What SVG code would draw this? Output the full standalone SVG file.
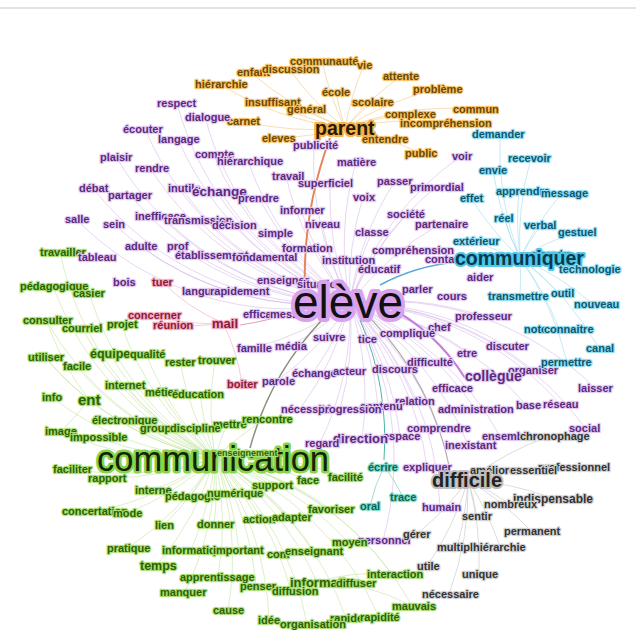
<svg xmlns="http://www.w3.org/2000/svg" width="636" height="630" viewBox="0 0 636 630">
<style>
text{font-family:"Liberation Sans",Arial,sans-serif;font-weight:bold;font-size:11px;paint-order:stroke;stroke-linejoin:round;stroke-width:2.4px}
.p{fill:#5a2a7c;stroke:#e4caf3}
.o{fill:#6a4800;stroke:#f7c36a}
.g{fill:#2b6200;stroke:#acdf78}
.t{fill:#0b5870;stroke:#96ddf2}
.k{fill:#333;stroke:#d2d2d2}
.r{fill:#8a1a3c;stroke:#f2aec0}
.q{fill:#0a665a;stroke:#86dcc8}
.e{fill:none;stroke-width:0.8}
.ep{stroke:#cfa8e6;opacity:.6}
.eo{stroke:#f5c98c;opacity:.8}
.et{stroke:#a6def0;opacity:.8}
.eg{stroke:#c4e4a0;opacity:.75}
.ek{stroke:#c8c8c8;opacity:.8}
.er{stroke:#f0b0c2;opacity:.8}
.eq{stroke:#7fd0c0;opacity:.9}
</style>
<rect width="636" height="630" fill="#fff"/>
<line x1="0" y1="8" x2="636" y2="8" stroke="#c8c8c8" stroke-width="1"/>
<g id="connectors">
<path class="e ep" d="M350 303A300 300 0 0 1 177 103M350 303A300 300 0 0 1 145 129M350 303A300 300 0 0 1 178 139M350 303A300 300 0 0 1 205 117M350 303A300 300 0 0 1 116 157M350 303A300 300 0 0 1 150 168M350 303A300 300 0 0 1 93 188M350 303A300 300 0 0 1 130 195M350 303A300 300 0 0 1 76 219M350 303A300 300 0 0 1 114 224M350 303A300 300 0 0 1 160 216M350 303A300 300 0 0 1 140 246M350 303A300 300 0 0 1 213 154M350 303A300 300 0 0 1 248 161M350 303A300 300 0 0 1 181 188M350 303A300 300 0 0 1 220 191M350 303A300 300 0 0 1 259 198M350 303A300 300 0 0 1 286 176M350 303A300 300 0 0 1 330 183M350 303A300 300 0 0 1 356 162M350 303A300 300 0 0 1 314 145M350 303A300 300 0 0 1 461 156M350 303A300 300 0 0 1 395 181M350 303A300 300 0 0 1 436 187M350 303A300 300 0 0 1 363 197M350 303A300 300 0 0 1 406 214M350 303A300 300 0 0 1 440 224M350 303A300 300 0 0 1 372 232M350 303A300 300 0 0 1 322 224M350 303A300 300 0 0 1 274 233M350 303A300 300 0 0 1 235 225M350 303A300 300 0 0 1 198 220M350 303A300 300 0 0 1 301 210M350 303A300 300 0 0 1 178 246M350 303A300 300 0 0 1 482 316M350 303A300 300 0 0 1 506 346M350 303A300 300 0 0 1 467 353M350 303A300 300 0 0 1 427 362M350 303A300 300 0 0 1 533 370M350 303A300 300 0 0 1 595 388M350 303A300 300 0 0 1 560 404M350 303A300 300 0 0 1 526 405M350 303A300 300 0 0 1 475 409M350 303A300 300 0 0 1 415 401M350 303A300 300 0 0 1 438 428M350 303A300 300 0 0 1 585 428M350 303A300 300 0 0 1 500 436M350 303A300 300 0 0 1 468 445M350 303A300 300 0 0 1 400 436M350 303A300 300 0 0 1 362 438M350 303A300 300 0 0 1 320 443M350 303A300 300 0 0 1 427 467M350 303A300 300 0 0 1 440 507M350 303A300 300 0 0 1 383 540M350 303A300 300 0 0 1 300 409M350 303A300 300 0 0 1 277 381M350 303A300 300 0 0 1 253 348M350 303A300 300 0 0 1 290 346M350 303A300 300 0 0 1 313 373M350 303A300 300 0 0 1 390 369M350 303A300 300 0 0 1 378 406M350 303A300 300 0 0 1 340 409"/>
<path class="e eo" d="M345 128A300 300 0 0 1 322 61M345 128A300 300 0 0 1 364 65M345 128A300 300 0 0 1 250 72M345 128A300 300 0 0 1 289 69M345 128A300 300 0 0 1 220 84M345 128A300 300 0 0 1 401 76M345 128A300 300 0 0 1 336 92M345 128A300 300 0 0 1 437 89M345 128A300 300 0 0 1 271 102M345 128A300 300 0 0 1 373 102M345 128A300 300 0 0 1 306 109M345 128A300 300 0 0 1 474 109M345 128A300 300 0 0 1 409 114M345 128A300 300 0 0 1 242 121M345 128A300 300 0 0 1 445 123M345 128A300 300 0 0 1 384 139M345 128A300 300 0 0 1 278 138M345 128A300 300 0 0 1 420 153"/>
<path class="e et" d="M520 258A300 300 0 0 1 500 134M520 258A300 300 0 0 1 531 158M520 258A300 300 0 0 1 493 170M520 258A300 300 0 0 1 519 191M520 258A300 300 0 0 1 562 193M520 258A300 300 0 0 1 471 198M520 258A300 300 0 0 1 504 218M520 258A300 300 0 0 1 541 225M520 258A300 300 0 0 1 576 232M520 258A300 300 0 0 1 475 241M520 258A300 300 0 0 1 587 269M520 258A300 300 0 0 1 520 296M520 258A300 300 0 0 1 559 293M520 258A300 300 0 0 1 593 304M520 258A300 300 0 0 1 559 329M520 258A300 300 0 0 1 599 348M520 258A300 300 0 0 1 567 362M520 258A300 300 0 0 1 438 259"/>
<path class="e eg" d="M215 458A300 300 0 0 1 60 252M215 458A300 300 0 0 1 53 286M215 458A300 300 0 0 1 89 293M215 458A300 300 0 0 1 46 320M215 458A300 300 0 0 1 82 328M215 458A300 300 0 0 1 121 324M215 458A300 300 0 0 1 45 357M215 458A300 300 0 0 1 109 353M215 458A300 300 0 0 1 146 354M215 458A300 300 0 0 1 76 366M215 458A300 300 0 0 1 180 362M215 458A300 300 0 0 1 215 360M215 458A300 300 0 0 1 125 385M215 458A300 300 0 0 1 160 392M215 458A300 300 0 0 1 200 394M215 458A300 300 0 0 1 51 397M215 458A300 300 0 0 1 89 400M215 458A300 300 0 0 1 124 420M215 458A300 300 0 0 1 227 424M215 458A300 300 0 0 1 266 419M215 458A300 300 0 0 1 61 431M215 458A300 300 0 0 1 157 428M215 458A300 300 0 0 1 193 428M215 458A300 300 0 0 1 97 437M215 458A300 300 0 0 1 71 469M215 458A300 300 0 0 1 107 478M215 458A300 300 0 0 1 345 477M215 458A300 300 0 0 1 308 480M215 458A300 300 0 0 1 272 485M215 458A300 300 0 0 1 153 490M215 458A300 300 0 0 1 233 493M215 458A300 300 0 0 1 191 496M215 458A300 300 0 0 1 330 509M215 458A300 300 0 0 1 98 511M215 458A300 300 0 0 1 128 513M215 458A300 300 0 0 1 290 517M215 458A300 300 0 0 1 257 519M215 458A300 300 0 0 1 164 525M215 458A300 300 0 0 1 214 524M215 458A300 300 0 0 1 348 542M215 458A300 300 0 0 1 128 548M215 458A300 300 0 0 1 191 550M215 458A300 300 0 0 1 239 550M215 458A300 300 0 0 1 314 551M215 458A300 300 0 0 1 157 565M215 458A300 300 0 0 1 392 574M215 458A300 300 0 0 1 218 577M215 458A300 300 0 0 1 317 582M215 458A300 300 0 0 1 256 586M215 458A300 300 0 0 1 291 591M215 458A300 300 0 0 1 185 592M215 458A300 300 0 0 1 412 606M215 458A300 300 0 0 1 228 610M215 458A300 300 0 0 1 346 618M215 458A300 300 0 0 1 379 617M215 458A300 300 0 0 1 269 620M215 458A300 300 0 0 1 307 624M89 400A300 300 0 0 1 46 320M89 400A300 300 0 0 1 45 357M89 400A300 300 0 0 1 61 431M317 582A200 200 0 0 1 392 574M317 582A200 200 0 0 1 412 606"/>
<path class="e ek" d="M468 480A300 300 0 0 1 550 436M468 480A300 300 0 0 1 572 467M468 480A300 300 0 0 1 532 470M468 480A300 300 0 0 1 552 498M468 480A300 300 0 0 1 510 504M468 480A300 300 0 0 1 477 516M468 480A300 300 0 0 1 531 531M468 480A300 300 0 0 1 417 534M468 480A300 300 0 0 1 457 547M468 480A300 300 0 0 1 500 547M468 480A300 300 0 0 1 427 566M468 480A300 300 0 0 1 479 574M468 480A300 300 0 0 1 449 594"/>
<path class="e er" d="M223 323A200 200 0 0 1 162 282M223 323A200 200 0 0 1 151 315M223 323A200 200 0 0 1 173 325M223 323A200 200 0 0 1 242 384"/>
<path class="e eq" d="M384 466A200 200 0 0 0 370 506M384 466A200 200 0 0 1 403 497"/>
<path fill="none" stroke="#e8845a" stroke-width="2" d="M330 138A400 400 0 0 0 305 292"/>
<path fill="none" stroke="#5aa8d8" stroke-width="1.5" d="M458 262A200 200 0 0 0 380 285"/>
<path fill="none" stroke="#8e8e7e" stroke-width="1.5" d="M250 448A300 300 0 0 1 322 320"/>
<path fill="none" stroke="#b0b0b0" stroke-width="1.2" d="M450 470A300 300 0 0 0 372 320"/>
<path fill="none" stroke="#c77de0" stroke-width="2" d="M385 305A200 200 0 0 1 465 378"/>
<path fill="none" stroke="#e49ab6" stroke-width="1" d="M240 325A300 300 0 0 0 300 310"/>
<path fill="none" stroke="#4ab8a4" stroke-width="1" d="M384 460A300 300 0 0 0 360 320"/>
</g>
<g id="n-communaute"><text class="o" x="290" y="65">communauté</text></g>
<g id="n-vie"><text class="o" x="357" y="69">vie</text></g>
<g id="n-enfant"><text class="o" x="237" y="76">enfant</text></g>
<g id="n-discussion"><text class="o" x="262" y="73">discussion</text></g>
<g id="n-hierarchie"><text class="o" x="195" y="88">hiérarchie</text></g>
<g id="n-attente"><text class="o" x="383" y="80">attente</text></g>
<g id="n-ecole"><text class="o" x="322" y="96">école</text></g>
<g id="n-probleme"><text class="o" x="413" y="93">problème</text></g>
<g id="n-insuffisant"><text class="o" x="245" y="106">insuffisant</text></g>
<g id="n-scolaire"><text class="o" x="352" y="106">scolaire</text></g>
<g id="n-general"><text class="o" x="287" y="113">général</text></g>
<g id="n-commun"><text class="o" x="453" y="113">commun</text></g>
<g id="n-complexe"><text class="o" x="385" y="118">complexe</text></g>
<g id="n-carnet"><text class="o" x="227" y="125">carnet</text></g>
<g id="n-incomprehension"><text class="o" x="400" y="127">incompréhension</text></g>
<g id="n-entendre"><text class="o" x="362" y="143">entendre</text></g>
<g id="n-eleves"><text class="o" x="262" y="142">eleves</text></g>
<g id="n-public"><text class="o" x="405" y="157">public</text></g>
<g id="n-parent"><text class="o" x="315" y="135" style="font-size:19.5px;fill:#2a1a00;stroke:#f5b24a;stroke-width:4px">parent</text></g>
<g id="n-respect"><text class="p" x="157" y="107">respect</text></g>
<g id="n-ecouter"><text class="p" x="123" y="133">écouter</text></g>
<g id="n-dialogue"><text class="p" x="185" y="121">dialogue</text></g>
<g id="n-langage"><text class="p" x="158" y="143">langage</text></g>
<g id="n-publicite"><text class="p" x="293" y="149">publicité</text></g>
<g id="n-plaisir"><text class="p" x="100" y="161">plaisir</text></g>
<g id="n-compte"><text class="p" x="195" y="158">compte</text></g>
<g id="n-hierarchique"><text class="p" x="217" y="165">hiérarchique</text></g>
<g id="n-voir"><text class="p" x="452" y="160">voir</text></g>
<g id="n-matiere"><text class="p" x="337" y="166">matière</text></g>
<g id="n-rendre"><text class="p" x="135" y="172">rendre</text></g>
<g id="n-travail"><text class="p" x="272" y="180">travail</text></g>
<g id="n-passer"><text class="p" x="377" y="185">passer</text></g>
<g id="n-superficiel"><text class="p" x="298" y="187">superficiel</text></g>
<g id="n-debat"><text class="p" x="79" y="192">débat</text></g>
<g id="n-inutile"><text class="p" x="168" y="192">inutile</text></g>
<g id="n-echange"><text class="p" x="192" y="196" style="font-size:13.5px">échange</text></g>
<g id="n-primordial"><text class="p" x="410" y="191">primordial</text></g>
<g id="n-partager"><text class="p" x="108" y="199">partager</text></g>
<g id="n-prendre"><text class="p" x="238" y="202">prendre</text></g>
<g id="n-voix"><text class="p" x="353" y="201">voix</text></g>
<g id="n-informer"><text class="p" x="280" y="214">informer</text></g>
<g id="n-societe"><text class="p" x="387" y="218">société</text></g>
<g id="n-salle"><text class="p" x="65" y="223">salle</text></g>
<g id="n-inefficace"><text class="p" x="135" y="220">inefficace</text></g>
<g id="n-transmission"><text class="p" x="164" y="224">transmission</text></g>
<g id="n-sein"><text class="p" x="103" y="228">sein</text></g>
<g id="n-decision"><text class="p" x="212" y="229">décision</text></g>
<g id="n-niveau"><text class="p" x="305" y="228">niveau</text></g>
<g id="n-partenaire"><text class="p" x="415" y="228">partenaire</text></g>
<g id="n-simple"><text class="p" x="258" y="237">simple</text></g>
<g id="n-classe"><text class="p" x="355" y="236">classe</text></g>
<g id="n-adulte"><text class="p" x="125" y="250">adulte</text></g>
<g id="n-prof"><text class="p" x="167" y="250">prof</text></g>
<g id="n-formation"><text class="p" x="282" y="252">formation</text></g>
<g id="n-comprehension"><text class="p" x="372" y="254">compréhension</text></g>
<g id="n-etablissement"><text class="p" x="175" y="259">établissement</text></g>
<g id="n-fondamental"><text class="p" x="232" y="261">fondamental</text></g>
<g id="n-institution"><text class="p" x="322" y="264">institution</text></g>
<g id="n-contact"><text class="p" x="425" y="263">contact</text></g>
<g id="n-educatif"><text class="p" x="358" y="273">éducatif</text></g>
<g id="n-aider"><text class="p" x="467" y="281">aider</text></g>
<g id="n-enseigner"><text class="p" x="257" y="284">enseigner</text></g>
<g id="n-situation"><text class="p" x="297" y="288">situation</text></g>
<g id="n-parler"><text class="p" x="402" y="293">parler</text></g>
<g id="n-langue"><text class="p" x="182" y="295">langue</text></g>
<g id="n-rapidement"><text class="p" x="210" y="295">rapidement</text></g>
<g id="n-cours"><text class="p" x="437" y="300">cours</text></g>
<g id="n-efficace"><text class="p" x="243" y="318">efficace</text></g>
<g id="n-message"><text class="p" x="270" y="318">message</text></g>
<g id="n-professeur"><text class="p" x="455" y="320">professeur</text></g>
<g id="n-chef"><text class="p" x="428" y="331">chef</text></g>
<g id="n-complique"><text class="p" x="380" y="337">compliqué</text></g>
<g id="n-suivre"><text class="p" x="313" y="341">suivre</text></g>
<g id="n-tice"><text class="p" x="358" y="343">tice</text></g>
<g id="n-media"><text class="p" x="275" y="350">média</text></g>
<g id="n-famille"><text class="p" x="237" y="352">famille</text></g>
<g id="n-discuter"><text class="p" x="486" y="350">discuter</text></g>
<g id="n-etre"><text class="p" x="457" y="357">etre</text></g>
<g id="n-difficulte"><text class="p" x="407" y="366">difficulté</text></g>
<g id="n-organiser"><text class="p" x="508" y="374">organiser</text></g>
<g id="n-discours"><text class="p" x="372" y="373">discours</text></g>
<g id="n-echange2"><text class="p" x="292" y="377">échange</text></g>
<g id="n-acteur"><text class="p" x="333" y="375">acteur</text></g>
<g id="n-collegue"><text class="p" x="465" y="381" style="font-size:14px">collègue</text></g>
<g id="n-parole"><text class="p" x="262" y="385">parole</text></g>
<g id="n-efficace2"><text class="p" x="432" y="392">efficace</text></g>
<g id="n-laisser"><text class="p" x="578" y="392">laisser</text></g>
<g id="n-relation"><text class="p" x="395" y="405">relation</text></g>
<g id="n-reseau"><text class="p" x="543" y="408">réseau</text></g>
<g id="n-base"><text class="p" x="516" y="409">base</text></g>
<g id="n-contenu"><text class="p" x="360" y="410">contenu</text></g>
<g id="n-necessite"><text class="p" x="281" y="413">nécessité</text></g>
<g id="n-progression"><text class="p" x="318" y="413">progression</text></g>
<g id="n-administration"><text class="p" x="438" y="413">administration</text></g>
<g id="n-comprendre"><text class="p" x="407" y="432">comprendre</text></g>
<g id="n-social"><text class="p" x="569" y="432">social</text></g>
<g id="n-ensemble"><text class="p" x="482" y="440">ensemble</text></g>
<g id="n-espace"><text class="p" x="383" y="440">espace</text></g>
<g id="n-direction"><text class="p" x="333" y="443" style="font-size:13px">direction</text></g>
<g id="n-regard"><text class="p" x="305" y="447">regard</text></g>
<g id="n-inexistant"><text class="p" x="445" y="449">inexistant</text></g>
<g id="n-expliquer"><text class="p" x="403" y="471">expliquer</text></g>
<g id="n-humain"><text class="p" x="422" y="511">humain</text></g>
<g id="n-personnel"><text class="p" x="358" y="544">personnel</text></g>
<g id="n-demander"><text class="t" x="472" y="138">demander</text></g>
<g id="n-recevoir"><text class="t" x="508" y="162">recevoir</text></g>
<g id="n-envie"><text class="t" x="479" y="174">envie</text></g>
<g id="n-apprendre"><text class="t" x="496" y="195">apprendre</text></g>
<g id="n-message2"><text class="t" x="541" y="197">message</text></g>
<g id="n-effet"><text class="t" x="460" y="202">effet</text></g>
<g id="n-reel"><text class="t" x="494" y="222">réel</text></g>
<g id="n-verbal"><text class="t" x="524" y="229">verbal</text></g>
<g id="n-gestuel"><text class="t" x="558" y="236">gestuel</text></g>
<g id="n-exterieur"><text class="t" x="453" y="245">extérieur</text></g>
<g id="n-repondre"><text class="t" x="532" y="257" style="font-size:9px">répondre</text></g>
<g id="n-communiquer"><text class="t" x="455" y="265" style="font-size:19.5px;fill:#0a3a4c;stroke:#4cc6ea;stroke-width:4px">communiquer</text></g>
<g id="n-technologie"><text class="t" x="559" y="273">technologie</text></g>
<g id="n-transmettre"><text class="t" x="488" y="300">transmettre</text></g>
<g id="n-outil"><text class="t" x="551" y="297">outil</text></g>
<g id="n-nouveau"><text class="t" x="574" y="308">nouveau</text></g>
<g id="n-note"><text class="t" x="524" y="333">note</text></g>
<g id="n-connaitre"><text class="t" x="544" y="333">connaitre</text></g>
<g id="n-canal"><text class="t" x="586" y="352">canal</text></g>
<g id="n-permettre"><text class="t" x="541" y="366">permettre</text></g>
<g id="n-chronophage"><text class="k" x="520" y="440">chronophage</text></g>
<g id="n-professionnel"><text class="k" x="538" y="471">professionnel</text></g>
<g id="n-ameliorer"><text class="k" x="470" y="474">améliorer</text></g>
<g id="n-essentiel"><text class="k" x="510" y="474">essentiel</text></g>
<g id="n-difficile"><text class="k" x="432" y="487" style="font-size:20px;fill:#222;stroke:#bdbdbd;stroke-width:4px">difficile</text></g>
<g id="n-indispensable"><text class="k" x="513" y="503" style="font-size:12px">indispensable</text></g>
<g id="n-nombreux"><text class="k" x="484" y="508">nombreux</text></g>
<g id="n-sentir"><text class="k" x="462" y="520">sentir</text></g>
<g id="n-permanent"><text class="k" x="504" y="535">permanent</text></g>
<g id="n-gerer"><text class="k" x="403" y="538">gérer</text></g>
<g id="n-multiple"><text class="k" x="437" y="551">multiple</text></g>
<g id="n-hierarchie2"><text class="k" x="473" y="551">hiérarchie</text></g>
<g id="n-utile"><text class="k" x="417" y="570">utile</text></g>
<g id="n-unique"><text class="k" x="462" y="578">unique</text></g>
<g id="n-necessaire"><text class="k" x="422" y="598">nécessaire</text></g>
<g id="n-tuer"><text class="r" x="152" y="286">tuer</text></g>
<g id="n-concerner"><text class="r" x="128" y="319">concerner</text></g>
<g id="n-reunion"><text class="r" x="153" y="329">réunion</text></g>
<g id="n-mail"><text class="r" x="212" y="328" style="font-size:13px">mail</text></g>
<g id="n-boiter"><text class="r" x="227" y="388">boiter</text></g>
<g id="n-travailler"><text class="g" x="40" y="256">travailler</text></g>
<g id="n-tableau"><text class="p" x="78" y="261">tableau</text></g>
<g id="n-bois"><text class="p" x="113" y="286">bois</text></g>
<g id="n-pedagogique"><text class="g" x="20" y="290">pédagogique</text></g>
<g id="n-casier"><text class="g" x="73" y="297">casier</text></g>
<g id="n-consulter"><text class="g" x="23" y="324">consulter</text></g>
<g id="n-courriel"><text class="g" x="62" y="332">courriel</text></g>
<g id="n-projet"><text class="g" x="107" y="328">projet</text></g>
<g id="n-utiliser"><text class="g" x="28" y="361">utiliser</text></g>
<g id="n-equipe"><text class="g" x="90" y="358" style="font-size:12.5px">équipe</text></g>
<g id="n-qualite"><text class="g" x="130" y="358">qualité</text></g>
<g id="n-facile"><text class="g" x="63" y="370">facile</text></g>
<g id="n-rester"><text class="g" x="165" y="366">rester</text></g>
<g id="n-trouver"><text class="g" x="198" y="364">trouver</text></g>
<g id="n-internet"><text class="g" x="105" y="389">internet</text></g>
<g id="n-metier"><text class="g" x="145" y="396">métier</text></g>
<g id="n-education"><text class="g" x="172" y="398">éducation</text></g>
<g id="n-info"><text class="g" x="42" y="401">info</text></g>
<g id="n-ent"><text class="g" x="78" y="405" style="font-size:15px">ent</text></g>
<g id="n-electronique"><text class="g" x="92" y="424">électronique</text></g>
<g id="n-mettre"><text class="g" x="213" y="428">mettre</text></g>
<g id="n-rencontre"><text class="g" x="242" y="423">rencontre</text></g>
<g id="n-image"><text class="g" x="45" y="435">image</text></g>
<g id="n-groupe"><text class="g" x="140" y="432">groupe</text></g>
<g id="n-discipline"><text class="g" x="170" y="432">discipline</text></g>
<g id="n-impossible"><text class="g" x="70" y="441">impossible</text></g>
<g id="n-communication"><text class="g" x="97" y="471" style="font-size:34.5px;font-weight:normal;fill:#142400;stroke:#86d44a;stroke-width:5px">communication</text></g>
<g id="n-enseignement"><text class="g" x="217" y="456" style="font-size:9px">enseignement</text></g>
<g id="n-faciliter"><text class="g" x="53" y="473">faciliter</text></g>
<g id="n-rapport"><text class="g" x="88" y="482">rapport</text></g>
<g id="n-facilite"><text class="g" x="328" y="481">facilité</text></g>
<g id="n-face"><text class="g" x="297" y="484">face</text></g>
<g id="n-support"><text class="g" x="252" y="489">support</text></g>
<g id="n-interne"><text class="g" x="135" y="494">interne</text></g>
<g id="n-pedagogie"><text class="g" x="165" y="500">pédagogie</text></g>
<g id="n-numerique"><text class="g" x="207" y="497">numérique</text></g>
<g id="n-favoriser"><text class="g" x="308" y="513">favoriser</text></g>
<g id="n-concertation"><text class="g" x="62" y="515">concertation</text></g>
<g id="n-mode"><text class="g" x="113" y="517">mode</text></g>
<g id="n-action"><text class="g" x="243" y="523">action</text></g>
<g id="n-adapter"><text class="g" x="272" y="521">adapter</text></g>
<g id="n-lien"><text class="g" x="155" y="529">lien</text></g>
<g id="n-donner"><text class="g" x="197" y="528">donner</text></g>
<g id="n-moyen"><text class="g" x="332" y="546">moyen</text></g>
<g id="n-pratique"><text class="g" x="107" y="552">pratique</text></g>
<g id="n-informatique"><text class="g" x="162" y="554">informatique</text></g>
<g id="n-important"><text class="g" x="213" y="554">important</text></g>
<g id="n-com"><text class="g" x="267" y="558">com</text></g>
<g id="n-enseignant"><text class="g" x="285" y="555">enseignant</text></g>
<g id="n-temps"><text class="g" x="140" y="570" style="font-size:12.5px">temps</text></g>
<g id="n-interaction"><text class="g" x="367" y="578">interaction</text></g>
<g id="n-apprentissage"><text class="g" x="180" y="581">apprentissage</text></g>
<g id="n-information"><text class="g" x="290" y="587" style="font-size:13px">information</text></g>
<g id="n-diffuser"><text class="g" x="336" y="587">diffuser</text></g>
<g id="n-penser"><text class="g" x="240" y="590">penser</text></g>
<g id="n-diffusion"><text class="g" x="272" y="595">diffusion</text></g>
<g id="n-manquer"><text class="g" x="160" y="596">manquer</text></g>
<g id="n-mauvais"><text class="g" x="392" y="610">mauvais</text></g>
<g id="n-cause"><text class="g" x="213" y="614">cause</text></g>
<g id="n-rapide"><text class="g" x="330" y="622">rapide</text></g>
<g id="n-rapidite"><text class="g" x="360" y="621">rapidité</text></g>
<g id="n-idee"><text class="g" x="258" y="624">idée</text></g>
<g id="n-organisation"><text class="g" x="280" y="628">organisation</text></g>
<g id="n-ecrire"><text class="q" x="368" y="471">écrire</text></g>
<g id="n-trace"><text class="q" x="390" y="501">trace</text></g>
<g id="n-oral"><text class="q" x="360" y="510">oral</text></g>
<g id="n-eleve"><text x="293" y="318" style="font-size:46px;font-weight:normal;fill:#111;stroke:#d9a2ef;stroke-width:8px">elève</text></g>
</svg>
